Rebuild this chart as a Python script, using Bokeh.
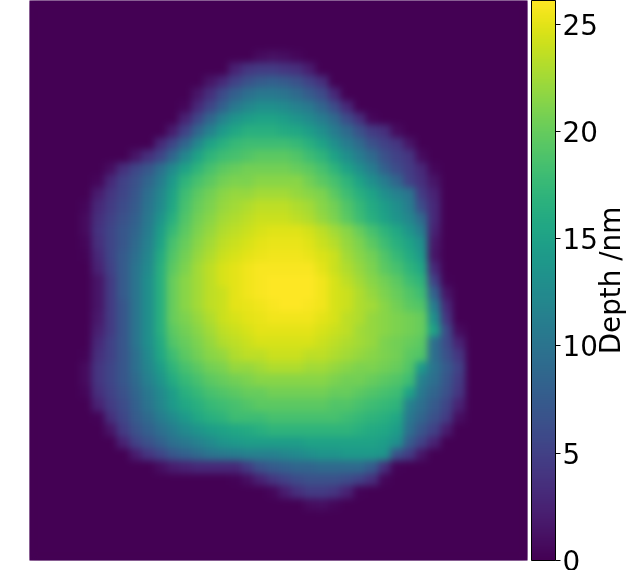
import numpy as np
from bokeh.embed import file_html
from bokeh.resources import INLINE
from bokeh.io import curdoc
from bokeh.plotting import figure
from bokeh.models import LinearColorMapper, ColorBar, FixedTicker, LinearAxis, Range1d, CustomJS
from bokeh.palettes import Viridis256

n_cols, n_rows = 40, 45
# depth (nm): row index -> first non-zero column, values from there on
depth_rows = {
4: (18, [0.8,1.2,1,0.5]),
5: (16, [2.5,4,4.5,4.5,4,3.5,2]),
6: (14, [1.5,3,5,6.5,7.5,8,7.5,6.5,5,3.5]),
7: (13, [1.5,3.5,6,8,9.5,10.5,10.5,10,9,7.5,6,3]),
8: (12, [0.5,3,5.5,8,10.5,12,13,13,12.5,11.5,10.5,8.5,6,3]),
9: (12, [2.5,5.5,8.5,11.5,13.5,14.5,15,15,14.5,13.5,12.5,11,9,6,3.5,0.5]),
10: (11, [2,5,8.5,11.5,14,15.5,16.5,16.5,16.5,16,15.5,14.5,13,11,9,6.5,4.5,3.5,0.8]),
11: (10, [3,5.5,8.5,12,15,16.5,17.5,18,18,18,18,17.5,16.5,15,13,11,9,6.5,5,4,1.5]),
12: (8, [1.5,3.5,5.5,8.5,12,15,17,18,18.5,19,19.5,19.5,19.5,19,18,17,15,13,11,9,6.5,5,4,0.8]),
13: (6, [1,3.5,5.5,7,9.5,12.5,15,17,18.5,19.5,20,20.5,20.5,20.5,20.5,20,19.5,18.5,17,15,13,11,8,6,4.5,3,0.5]),
14: (5, [0.5,3,5,6.5,8.5,11,14,17,18.5,19.5,20.5,21,21,21.5,21.5,21.5,21.5,20.5,19.5,18.5,17,15,13,11,8.5,5,3.5,1.5]),
15: (5, [2,4,5.5,7,9.5,12,15,18,19.5,20.5,21.5,22,22,22.5,22.5,22.5,22,21.5,21,19.5,18,16.5,15,13,11.5,10,4.5,2.5]),
16: (4, [0.5,3,4.5,6,7.5,10,12.5,15.5,18.5,20,21,22,22.5,23,23.5,23.5,23.5,23,22.5,21.5,20.5,19,17.5,16,14.5,13,11,6,3]),
17: (4, [0.8,3.5,5,6.5,8,10.5,13.5,16.5,19,20.5,21.5,22.5,23,23.5,24,24,24,23.5,23,22,21,19.5,18,16.5,15,13.5,12,9,3]),
18: (4, [0.8,3.8,5.5,7,8.5,11,14.5,17.5,19.5,21,22,23,23.5,24,24.5,24.8,24.8,24.8,24.3,23.5,22.5,21.5,20,18.5,17,15.5,13.5,11,2.5]),
19: (4, [0.5,3.5,5.5,7,9,11.5,15,18.5,20,21.5,22.5,23.5,24,24.5,25,25.2,25.2,25.2,24.8,24,23.2,22,21,19.5,18,16.5,15,13,1.8]),
20: (4, [0.3,3,5.5,7.5,9.5,12,16,19,20.5,22,23,24,24.5,25,25.3,25.5,25.5,25.5,25.2,24.6,24,22.5,21.5,20.5,19,17.5,16,14,1.5]),
21: (5, [2.5,5,7.5,10,12.5,16.5,19.5,21,22.5,23.5,24.5,25,25.5,25.8,25.8,25.8,25.8,25.8,25,24,23,22,21,19.5,18.5,17,15.5,3]),
22: (5, [1.5,4.5,7.5,10,13,16.5,20,21.5,22.5,23.5,24.5,25,25.5,25.8,26,26,26,26,25.5,24.5,23.5,22.5,21.5,20.5,19.5,18,17,5,0.3]),
23: (5, [1.5,4.5,7.5,10,13,16.5,20,21.5,22.5,23.5,24,25,25.5,25.8,26,26,26,26,25.5,24.5,24,23,22,21,20,19,18,8,1.5]),
24: (5, [1.5,4.5,7,10,13,16.5,20,21.5,22.5,23.5,24,25,25.2,25.5,25.8,26,26,25.8,25.5,24.5,24,23,22.5,21.5,20.5,19.5,19,11,3]),
25: (5, [1.8,4.5,7,10,13,16.5,20,21,22,23,24,24.5,25,25.2,25.5,25.5,25.5,25.5,25,24.5,23.5,23,22,21.5,21,20.5,20,13,4]),
26: (5, [2.3,4.5,7,10,13,16.5,19.5,20.5,21.5,22.5,23.5,24,24.5,25,25,25,25,25,24.5,24,23.5,22.5,22,21.5,21,20.5,20,15,6,0.8]),
27: (5, [3,5,7,10,13,16,19,20,21,22,23,23.5,24,24.5,24.5,24.5,24.5,24.5,24,23.5,23,22.5,22,21,20.5,20,19.5,9.5,6,2.5]),
28: (4, [0.3,3.5,5,7,9.5,12.5,15.5,18,19.5,20.5,21.5,22,23,23.5,23.5,24,24,24,23.5,23.5,23,22.5,22,21.5,21,20.5,19.5,19,9.5,6.5,4]),
29: (4, [0.8,4,5.5,7,9.5,12,14.5,17,18.5,19.5,20.5,21,22,22,22.5,23,23,23,22.5,22.5,22,21.5,21,21,20.5,20,19,14,10,7.5,5]),
30: (4, [0.8,4,5.5,7,9,11.5,13.5,16,17.5,18.5,19.5,20,20.5,21,21.5,21.5,21.5,21.5,21.5,21.5,21,20.5,20.5,20,19.5,19,18,11.5,9.5,7,4.5]),
31: (4, [0.5,3.5,5,6.5,8.5,10.5,12.5,14.5,16.5,17.5,18.5,19,19.5,20,20,20.5,20.5,20.5,20.5,20.5,20,20,19.5,19,18.5,18,15,10.5,8.5,6.5,4]),
32: (5, [2.5,4.5,6,8,10,12,14,15.5,16.5,17.5,18,18.5,19,19.5,19.5,19.5,19.5,19.5,19.5,19,19,18.5,18,17.5,17,11.5,9.5,7.5,5.5,2.5]),
33: (5, [0.3,3.5,5.5,7.5,9,11,12.5,14,15.5,16.5,17,18,18,18,18.5,18.5,18.5,18.5,18.5,18.5,18,17.5,17,16.5,15.5,10.5,8.5,6.5,4.5,1]),
34: (6, [1.5,4.5,6.5,8,9.5,11,12.5,13.5,14.5,15,15.5,16,16.5,17,17,17,17,17,17,17,16.5,16,15.5,14.5,9.5,7,5,2]),
35: (7, [2.5,5,6.5,8,9.5,10.5,11.5,12.5,13.5,14,14.5,14.5,14.5,14.5,14.5,15,15,15,15,15,15,14.5,13,7.5,5,2.5]),
36: (8, [2,4,5.5,7,8,9,10,10.5,11,11.5,11.5,11.5,12,12.5,13,13.5,13.5,14,14,14,13.5,6.5,4.5,1.5]),
37: (10, [1,2,2.5,3,3,3,3,4.5,6.5,7.5,8,8.5,8.5,9,9,9,9,7.5,3.5,0.3]),
38: (16, [0.3,1,2.5,4,5,6,6.5,6.5,6.5,6,5,3.5,0.5]),
39: (19, [0.5,2,3.5,4.5,4.5,4,2.5,0.3]),
40: (22, [0.8,1,0.5]),
}
cbar_ticks = [0, 5, 10, 15, 20, 25]
depth_max = 26.1
cbar_title = "Depth /nm"

grid = np.zeros((n_rows, n_cols))
for row, (first, vals) in depth_rows.items():
    grid[row, first:first + len(vals)] = vals
depth = np.flipud(grid)
mapper = LinearColorMapper(palette=Viridis256, low=0, high=depth_max)

p = figure(width=640, height=570, frame_width=498, frame_height=560,
           x_range=Range1d(0, 498), y_range=Range1d(0, 560),
           x_axis_location=None, y_axis_location=None,
           output_backend="svg", toolbar_location=None,
           background_fill_color="#440154",
           min_border_left=29, min_border_top=0, min_border_bottom=10, min_border_right=0)
p.styles = {"position": "fixed", "left": "0px", "top": "0px"}
p.grid.visible = False
p.outline_line_color = None
p.image(image=[depth], x=0, y=0, dw=498, dh=560, color_mapper=mapper)

cb = ColorBar(color_mapper=mapper, ticker=FixedTicker(ticks=cbar_ticks), width=24, height=560,
              padding=0, margin=0, location=(4, 0), bar_line_color="black", bar_line_width=1,
              major_tick_out=5, major_tick_in=0, major_tick_line_color="black",
              minor_tick_line_color=None, label_standoff=2,
              major_label_text_font="DejaVu Sans", major_label_text_font_size="27.8px",
              major_label_text_color="black", background_fill_color=None, border_line_color=None)
p.add_layout(cb, "right")
ax = LinearAxis(ticker=FixedTicker(ticks=[]), axis_line_color=None, major_tick_line_color=None,
                minor_tick_line_color=None, axis_label=cbar_title, axis_label_standoff=1,
                axis_label_text_font="DejaVu Sans", axis_label_text_font_size="27.8px",
                axis_label_text_font_style="normal", axis_label_text_color="black",
                axis_label_orientation=1.5708)
p.add_layout(ax, "right")

smooth = CustomJS(code="""
function walk(root) {
  root.querySelectorAll('image').forEach(i => {
    if (i.getAttribute('width') == '498') { i.style.filter = 'blur(3.5px)'; }
  });
  root.querySelectorAll('text').forEach(t => {
    if (t.textContent == 'Depth /nm') { t.setAttribute('text-anchor', 'middle'); t.setAttribute('dy', '9'); }
  });
  root.querySelectorAll('*').forEach(e => { if (e.shadowRoot) walk(e.shadowRoot); });
}
function go() { walk(document); }
go(); setTimeout(go, 50); setTimeout(go, 300); setTimeout(go, 1000);
""")
doc = curdoc()
doc.add_root(p)
doc.js_on_event("document_ready", smooth)

open("out.html", "w").write(file_html(p, INLINE))
